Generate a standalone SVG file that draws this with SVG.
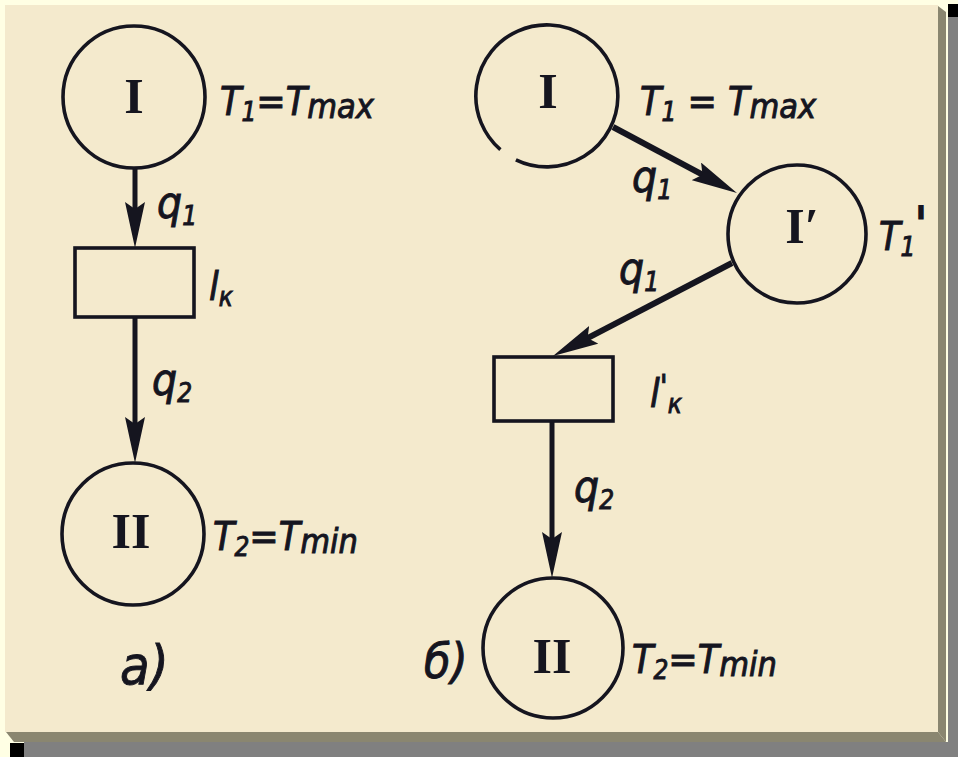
<svg xmlns="http://www.w3.org/2000/svg" width="958" height="757" viewBox="0 0 958 757">
<style>
.node{stroke:#15151f;stroke-width:3.6;fill:none}
.edge{stroke:#15151f;stroke-width:5;fill:none;marker-end:url(#ah)}
.lbl{font-family:"DejaVu Sans Condensed","Liberation Sans Narrow","Liberation Sans",sans-serif;font-style:oblique;fill:#15151f;stroke:#15151f;stroke-width:0.9;font-size:39px}
.q{font-size:44px}
.num{font-family:"Liberation Serif","DejaVu Serif",serif;font-weight:bold;fill:#15151f;font-size:50px;text-anchor:middle}
.sub{font-size:26px}
</style>
<defs>
<marker id="ah" markerUnits="userSpaceOnUse" viewBox="0 0 46 20" markerWidth="46" markerHeight="20" refX="26" refY="10" orient="auto">
<path d="M0,0 L46,10 L0,20 L7,10 z" fill="#15151f"/>
</marker>
</defs>
<!-- frame -->
<rect x="0" y="0" width="958" height="757" fill="#FFFFE4"/>
<rect x="948" y="17" width="10" height="740" fill="#808080"/>
<rect x="24" y="742" width="934" height="15" fill="#808080"/>
<rect x="948" y="4" width="10" height="13" fill="#000"/>
<rect x="10" y="743" width="14" height="14" fill="#000"/>
<polygon points="938,6 946,12 946,742 938,732" fill="#8a8670"/>
<polygon points="6,732 938,732 946,742 14,742" fill="#8a8670"/>
<rect x="5" y="5" width="933" height="727" fill="#F4EACD"/>

<g id="connectors">
<path class="edge" d="M135,168 L135,228"/>
<path class="edge" d="M135,318 L135,443"/>
<path class="edge" style="stroke-width:6" d="M613,127 L719.3,183.6"/>
<path class="edge" style="stroke-width:6" d="M732,263 L570.7,346.8"/>
<path class="edge" d="M552,422 L552,558"/>
</g>

<g id="nodeA_I">
<circle class="node" cx="134" cy="97" r="71"/>
<text class="num" x="134" y="113">I</text>
<text class="lbl" x="220" y="115">T<tspan class="sub" dy="6">1</tspan><tspan dy="-6">=T</tspan><tspan font-size="34" dy="3">max</tspan></text>
</g>
<g id="nodeA_lk">
<rect class="node" x="75" y="248" width="119" height="69"/>
<text class="lbl" x="209" y="300">l<tspan class="sub" dy="6">к</tspan></text>
</g>
<g id="nodeA_II">
<circle class="node" cx="133" cy="534" r="71"/>
<text class="num" x="131" y="548">II</text>
<text class="lbl" x="213" y="550">T<tspan class="sub" dy="6">2</tspan><tspan dy="-6">=T</tspan><tspan font-size="34" dy="3">min</tspan></text>
</g>
<text class="lbl q" x="157" y="218">q<tspan class="sub" dy="7">1</tspan></text>
<text class="lbl q" x="152" y="395">q<tspan class="sub" dy="7">2</tspan></text>
<text class="lbl" x="120" y="684" style="font-size:54px">а)</text>

<g id="nodeB_I">
<path class="node" d="M500.4,149.6 A71,71 0 1 1 515.9,159.8"/>
<text class="num" x="548" y="108">I</text>
<text class="lbl" x="640" y="115">T<tspan class="sub" dy="6">1</tspan><tspan dy="-6"> = T</tspan><tspan font-size="34" dy="3">max</tspan></text>
</g>
<g id="nodeB_I1">
<circle class="node" cx="797" cy="234" r="69"/>
<text class="num" x="802" y="243">I′</text>
<text class="lbl" x="879" y="250">T<tspan class="sub" dy="6">1</tspan><tspan font-size="46" dy="-16" stroke-width="2">'</tspan></text>
</g>
<g id="nodeB_lk">
<rect class="node" x="494" y="357" width="119" height="64"/>
<text class="lbl" x="650" y="407">l<tspan font-size="32" dy="-10">'</tspan><tspan class="sub" dy="16">к</tspan></text>
</g>
<g id="nodeB_II">
<circle class="node" cx="553" cy="648" r="70"/>
<text class="num" x="552" y="673">II</text>
<text class="lbl" x="632" y="673">T<tspan class="sub" dy="6">2</tspan><tspan dy="-6">=T</tspan><tspan font-size="34" dy="3">min</tspan></text>
</g>
<text class="lbl q" x="632" y="192">q<tspan class="sub" dy="7">1</tspan></text>
<text class="lbl q" x="619" y="284">q<tspan class="sub" dy="7">1</tspan></text>
<text class="lbl q" x="574" y="502">q<tspan class="sub" dy="7">2</tspan></text>
<text class="lbl" x="424" y="678" style="font-size:48px">б)</text>
</svg>
